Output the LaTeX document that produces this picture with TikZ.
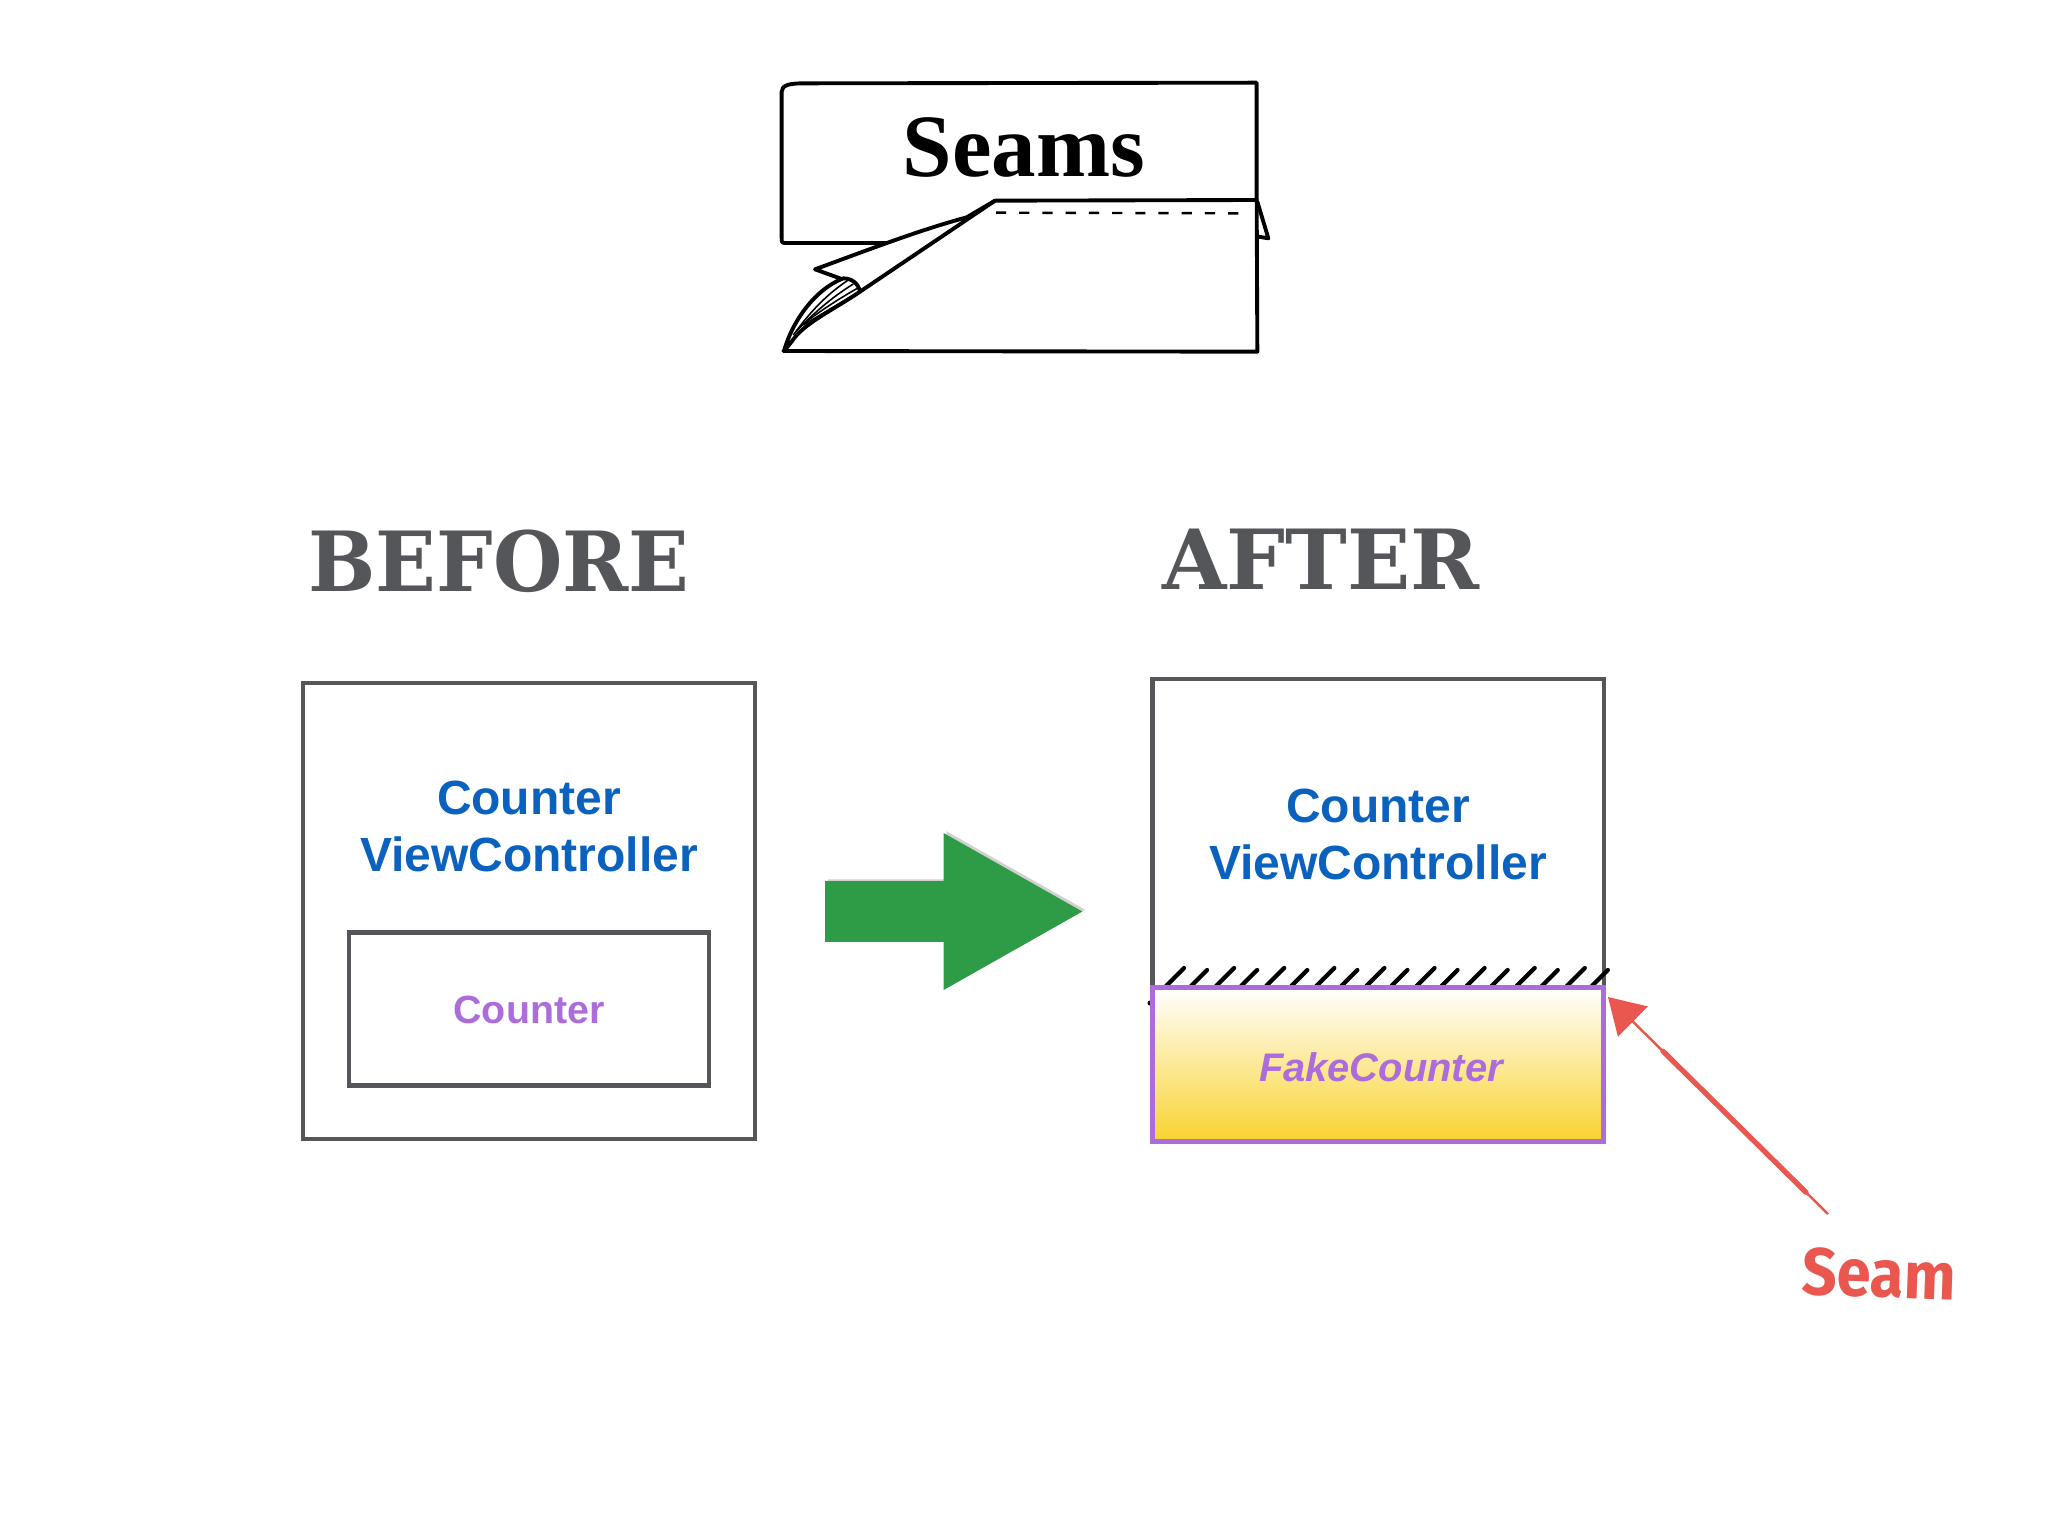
\documentclass[tikz,border=0pt]{standalone}
\usepackage{fontspec}
\setmainfont{Liberation Serif}
\setsansfont{Liberation Sans}
\newfontfamily\seamfont{Fira Sans}
\newfontfamily\headfont{DejaVu Serif}
\usetikzlibrary{calc,arrows.meta,shapes.arrows,shadows}
\definecolor{boxgray}{HTML}{55565A}
\definecolor{ctrlblue}{HTML}{0B62BE}
\definecolor{cntpurple}{HTML}{AC6CDC}
\definecolor{seamred}{HTML}{E9574F}
\definecolor{fakeyellow}{HTML}{F8D32E}
\definecolor{arrowgreen}{HTML}{2E9C46}
\tikzset{
	framebox/.style={draw=boxgray, line width=4.2*0.2845pt, inner sep=0pt},
	headtext/.style={text=boxgray, font=\headfont\bfseries\fontsize{23.6}{24}\selectfont},
	ctrltext/.style={text=ctrlblue, font=\sffamily\bfseries\fontsize{13.65}{16.4}\selectfont, align=center},
	cnttext/.style={text=cntpurple, font=\sffamily\bfseries\fontsize{11.2}{14}\selectfont},
	pagelines/.style={black, line width=1.1pt, line join=round, line cap=round},
	curllines/.style={black, line width=0.45pt},
}
\begin{document}
\begin{tikzpicture}[x=0.01cm,y=-0.01cm,inner sep=0pt,outer sep=0pt]
	\useasboundingbox (0,0) rectangle (2048,1536);

	% torn page
	\begin{scope}[shift={(760,60)},x=0.01cm/3,y=-0.01cm/3]
		\draw[pagelines] (380,549) -- (75,549) .. controls (65,549) and (65,545) .. (65,535) -- (65,95) .. controls (65,75) and (90,70) .. (130,70) -- (1490,68) -- (1490,418);
		\draw[pagelines] (1490,420) -- (705,422) -- (620,472) .. controls (480,510) and (350,560) .. (165,628) -- (240,655);
		\draw[pagelines] (705,422) -- (300,695);
		\draw[pagelines] (1490,418) -- (1492,875) -- (70,873);
		\draw[pagelines] (1492,425) -- (1525,535) -- (1495,530);
		\draw[pagelines] (72,873) .. controls (95,790) and (160,690) .. (250,655) .. controls (275,655) and (295,670) .. (300,695) .. controls (220,750) and (130,790) .. (95,845) -- cycle;
		\draw[curllines] (100,825) .. controls (140,770) and (190,710) .. (262,662);
		\draw[curllines] (108,815) .. controls (150,770) and (210,715) .. (280,672);
		\draw[curllines] (120,800) .. controls (170,760) and (230,720) .. (292,685);
		\draw[curllines] (130,795) .. controls (180,765) and (240,730) .. (296,695);
		\draw[black, line width=0.7pt, dash pattern=on 2.9pt off 3.7pt] (708,458) -- (1460,460);
	\end{scope}
	\node[font=\bfseries\fontsize{25.3}{26}\selectfont] at (1024,147) (title) {Seams};

	% before
	\node[headtext, xscale=0.96] at (499,561) (before) {BEFORE};
	\node[framebox, minimum width=452*0.2845pt, minimum height=456*0.2845pt] at (529,911) (outer_b) {};
	\node[ctrltext] at (529,826.5) (ctrl_b) {Counter\\ViewController};
	\node[framebox, minimum width=360*0.2845pt, minimum height=153*0.2845pt] at (529,1009) (inner_b) {};
	\node[cnttext] at (529,1010) (cnt_b) {Counter};

	% change arrow
	\node[single arrow, fill=arrowgreen, inner ysep=15*0.2845pt, minimum height=257*0.2845pt, minimum width=157*0.2845pt, single arrow tip angle=59, single arrow head indent=0pt, drop shadow={shadow xshift=0.8pt, shadow yshift=0.5pt, opacity=0.18, fill=black}] at (927,911.5) (change) {};

	% after
	\node[headtext] at (1321,559) (after) {AFTER};
	\node[framebox, minimum width=451*0.2845pt, minimum height=308*0.2845pt] at (1378,833) (outer_a) {};
	\node[ctrltext] at (1378,834.5) (ctrl_a) {Counter\\ViewController};
	\foreach \i in {0,...,17}{
		\pgfmathsetmacro{\rise}{isodd(\i)?16:18}
		\draw[black, line width=1.2pt, line cap=round] ({1166+25.05*\i},986) -- ++(\rise,-\rise);
	}
	\fill[black] (1150,1003) circle (2.5);
	\node[draw=cntpurple, line width=5*0.2845pt, top color=white, bottom color=fakeyellow, minimum width=451*0.2845pt, minimum height=154*0.2845pt] at (1378,1064.5) (fake) {};
	\node[cnttext, font=\sffamily\bfseries\itshape\fontsize{11.35}{14}\selectfont] at (1381,1067) (fake_t) {FakeCounter};

	% seam
	\coordinate (seam_tip) at (1608,997);
	\coordinate (seam_tail) at (1828,1214);
	\coordinate (seam_midb) at ($(seam_tail)!0.1!(seam_tip)$);
	\coordinate (seam_mida) at ($(seam_tail)!0.75!(seam_tip)$);
	\draw[seamred, line width=0.7pt, -{Triangle[length=35*0.2845pt,width=42*0.2845pt]}] (seam_tail) -- (seam_tip);
	\draw[seamred, line width=1.5pt, line cap=round] (seam_midb) -- (seam_mida);
	\node[text=seamred, font=\seamfont\bfseries\fontsize{19}{19}\selectfont, rotate=-2, xscale=0.92] at (1879,1274) (seam) {Seam};
\end{tikzpicture}
\end{document}
